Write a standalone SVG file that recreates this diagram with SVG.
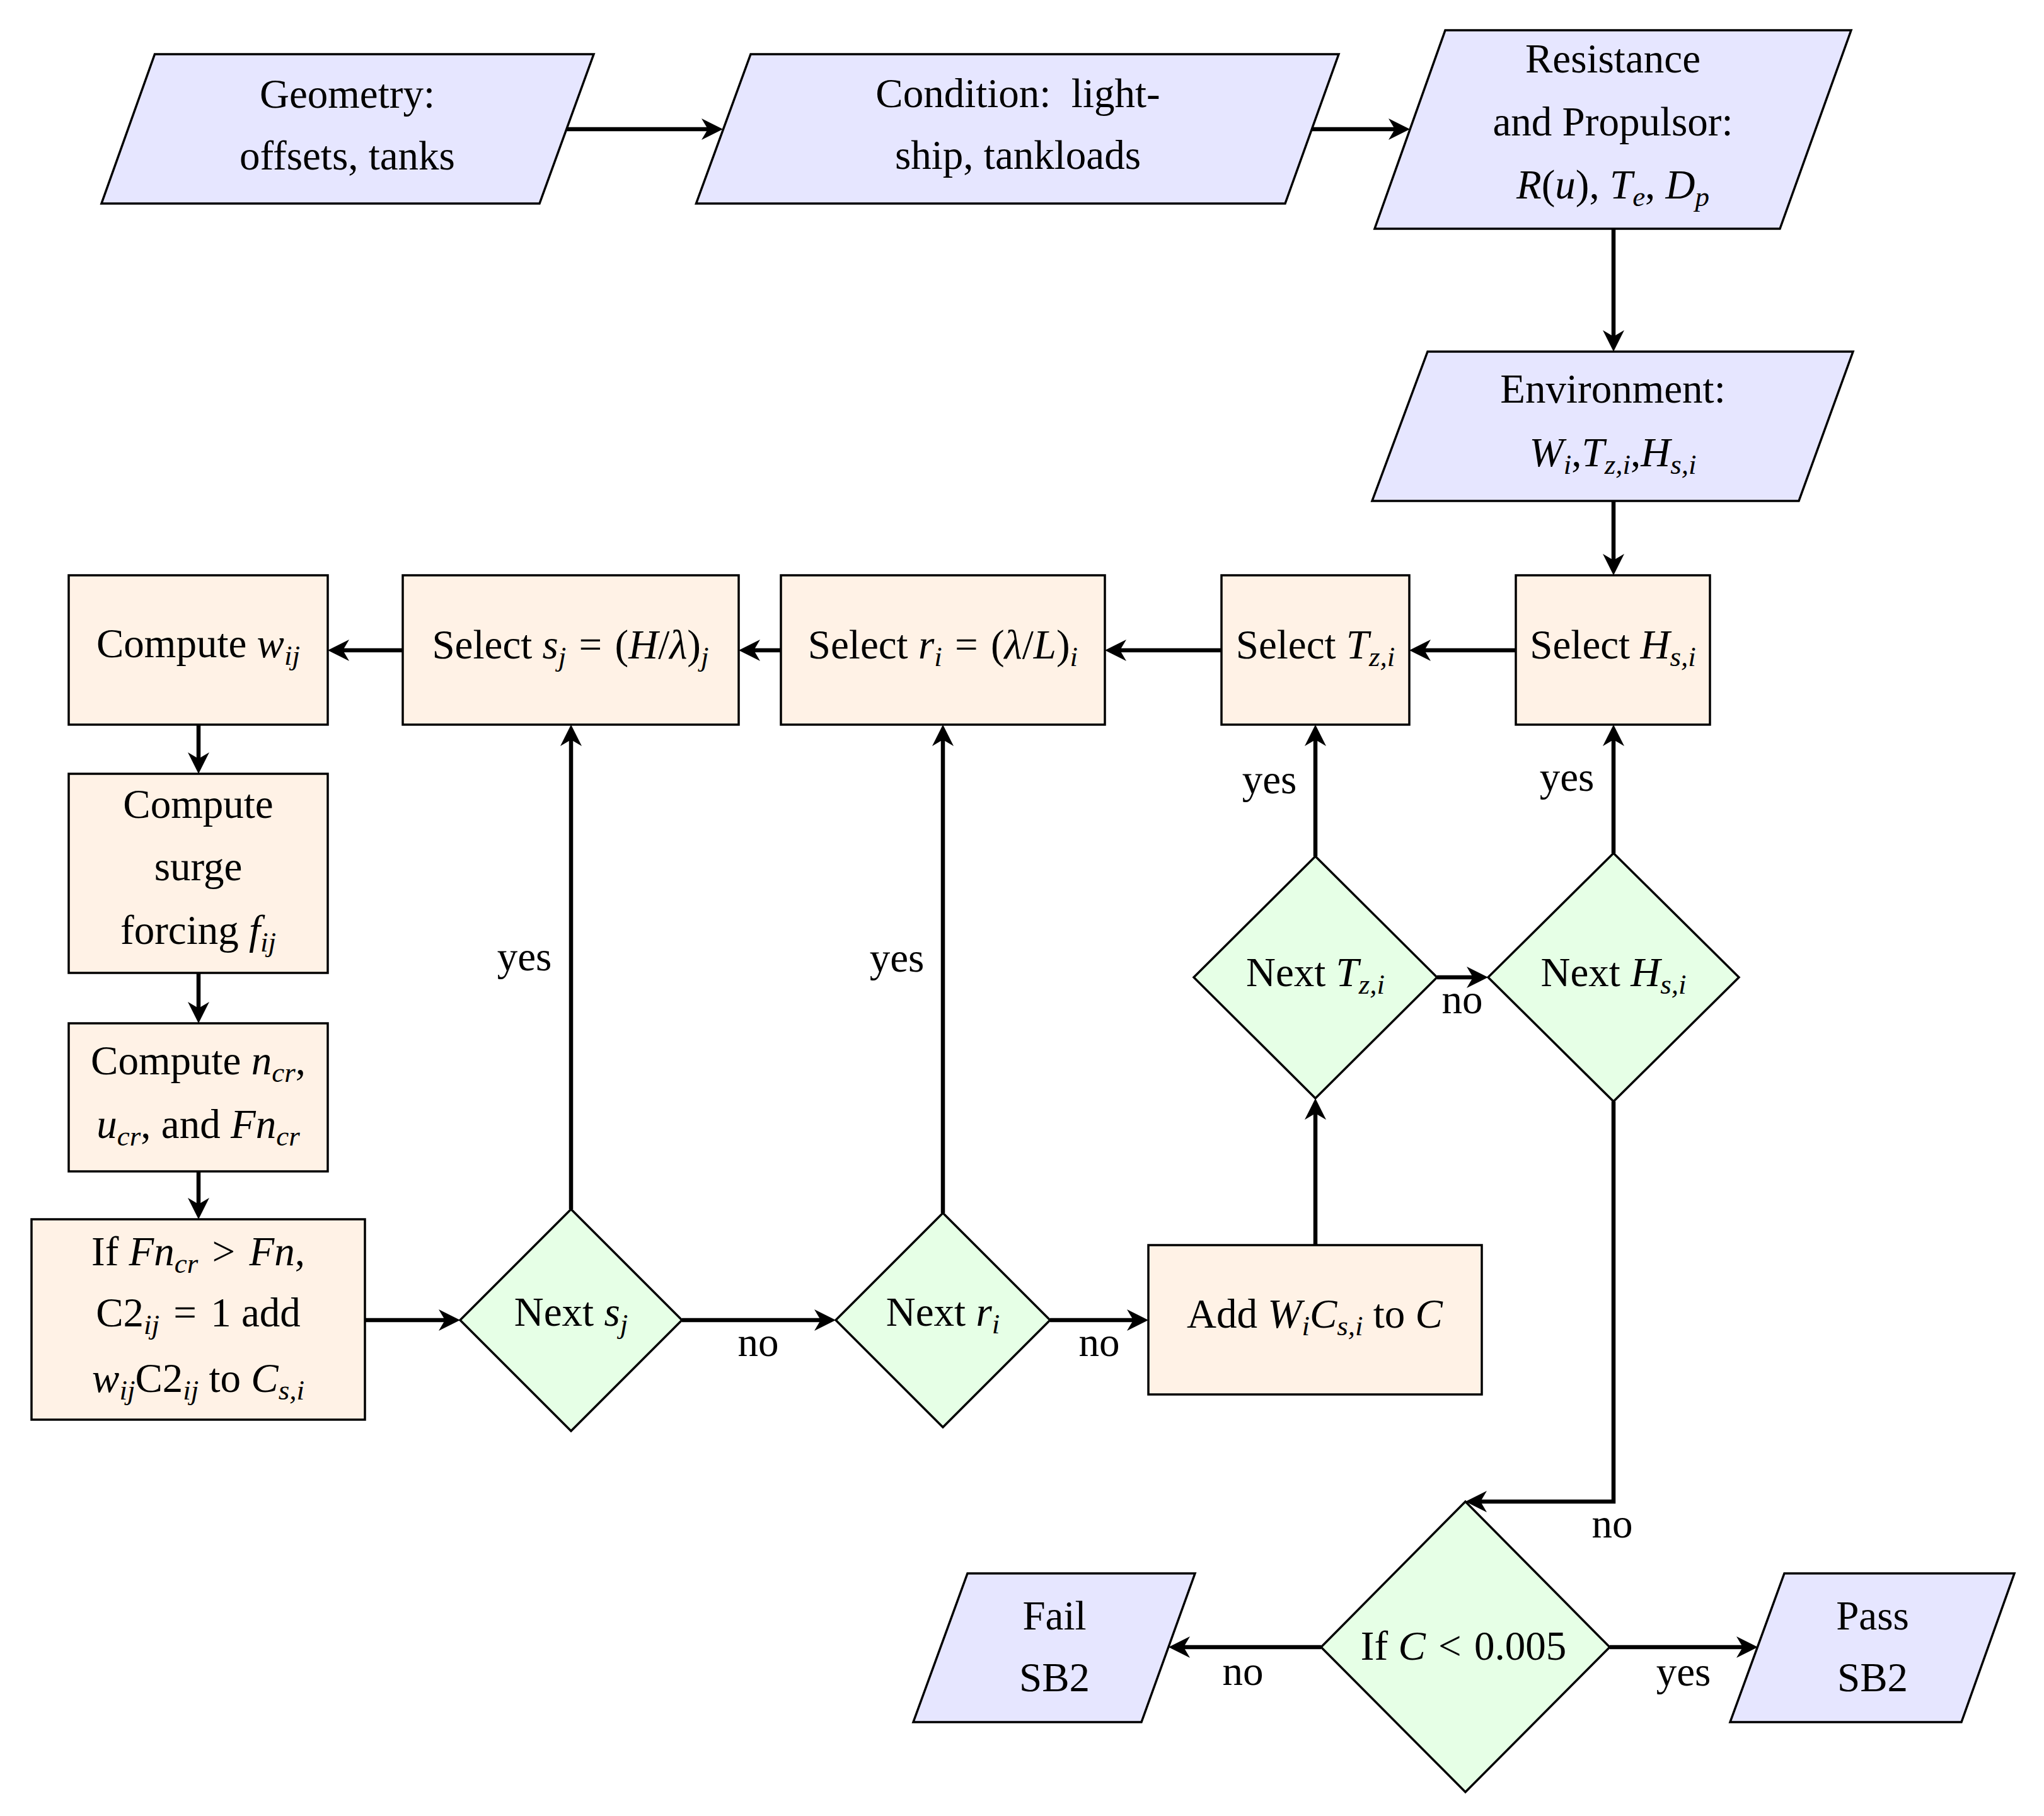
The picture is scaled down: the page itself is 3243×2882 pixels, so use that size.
<svg xmlns="http://www.w3.org/2000/svg" width="3243" height="2882" viewBox="0 0 3243 2882">
<style>
.para{fill:#E6E6FF;stroke:#000;stroke-width:3.5;stroke-linejoin:miter}
.proc{fill:#FFF2E6;stroke:#000;stroke-width:3.5}
.dec{fill:#E6FFE6;stroke:#000;stroke-width:3.5}
.t{font-family:"Liberation Serif","Times New Roman",serif;font-size:65px;fill:#000;text-anchor:middle}
.m{font-style:italic}
.s{font-size:45px;font-style:italic}
.conn path{fill:none;stroke:#000;stroke-width:6.5;marker-end:url(#ah)}
</style>
<defs>
<marker id="ah" markerUnits="userSpaceOnUse" markerWidth="60" markerHeight="60" viewBox="-40 -30 60 60" refX="-20" refY="0" orient="auto">
<path d="M0,0 L-34,-17 L-24,0 L-34,17 Z" fill="#000"/>
</marker>
</defs>
<rect x="0" y="0" width="3243" height="2882" fill="#fff"/>

<g id="geometry">
<polygon class="para" points="245.5,86 942,86 856,323 161,323"/>
<text class="t" x="551" y="171">Geometry:</text>
<text class="t" x="551" y="269">offsets, tanks</text>
</g>
<g id="condition">
<polygon class="para" points="1191,86 2124,86 2039,323 1104.5,323"/>
<text class="t" x="1615" y="170" xml:space="preserve">Condition:  light-</text>
<text class="t" x="1615" y="268">ship, tankloads</text>
</g>
<g id="resistance">
<polygon class="para" points="2293,48 2937,48 2824,363 2181,363"/>
<text class="t" x="2559" y="115">Resistance</text>
<text class="t" x="2559" y="215">and Propulsor:</text>
<text class="t" x="2559" y="315"><tspan class="m">R</tspan>(<tspan class="m">u</tspan>), <tspan class="m">T</tspan><tspan class="s" dy="12">e</tspan><tspan dy="-12">, </tspan><tspan class="m">D</tspan><tspan class="s" dy="12">p</tspan></text>
</g>
<g id="environment">
<polygon class="para" points="2265,558 2940,558 2854,795 2177,795"/>
<text class="t" x="2559" y="639">Environment:</text>
<text class="t" x="2559" y="740"><tspan class="m">W</tspan><tspan class="s" dy="12">i</tspan><tspan dy="-12">,</tspan><tspan class="m">T</tspan><tspan class="s" dy="12">z,i</tspan><tspan dy="-12">,</tspan><tspan class="m">H</tspan><tspan class="s" dy="12">s,i</tspan></text>
</g>

<g id="select-h">
<rect class="proc" x="2405" y="913" width="308" height="237"/>
<text class="t" x="2559" y="1045">Select <tspan class="m">H</tspan><tspan class="s" dy="12">s,i</tspan></text>
</g>
<g id="select-t">
<rect class="proc" x="1938" y="913" width="298" height="237"/>
<text class="t" x="2087" y="1045">Select <tspan class="m">T</tspan><tspan class="s" dy="12">z,i</tspan></text>
</g>
<g id="select-r">
<rect class="proc" x="1239" y="913" width="514" height="237"/>
<text class="t" x="1496" y="1045">Select <tspan class="m">r</tspan><tspan class="s" dy="12">i</tspan><tspan dy="-12" dx="4"> = </tspan><tspan dx="4">(</tspan><tspan class="m">λ</tspan>/<tspan class="m">L</tspan>)<tspan class="s" dy="12">i</tspan></text>
</g>
<g id="select-s">
<rect class="proc" x="639" y="913" width="533" height="237"/>
<text class="t" x="905" y="1045">Select <tspan class="m">s</tspan><tspan class="s" dy="12">j</tspan><tspan dy="-12" dx="4"> = </tspan><tspan dx="4">(</tspan><tspan class="m">H</tspan>/<tspan class="m">λ</tspan>)<tspan class="s" dy="12">j</tspan></text>
</g>
<g id="compute-w">
<rect class="proc" x="109" y="913" width="411" height="237"/>
<text class="t" x="314.5" y="1043">Compute <tspan class="m">w</tspan><tspan class="s" dy="12">ij</tspan></text>
</g>
<g id="compute-surge">
<rect class="proc" x="109" y="1228" width="411" height="316"/>
<text class="t" x="314.5" y="1298">Compute</text>
<text class="t" x="314.5" y="1397">surge</text>
<text class="t" x="314.5" y="1498">forcing <tspan class="m">f</tspan><tspan class="s" dy="12">ij</tspan></text>
</g>
<g id="compute-ncr">
<rect class="proc" x="109" y="1624" width="411" height="235"/>
<text class="t" x="314.5" y="1705">Compute <tspan class="m">n</tspan><tspan class="s" dy="12">cr</tspan><tspan dy="-12">,</tspan></text>
<text class="t" x="314.5" y="1806"><tspan class="m">u</tspan><tspan class="s" dy="12">cr</tspan><tspan dy="-12">, and </tspan><tspan class="m">Fn</tspan><tspan class="s" dy="12">cr</tspan></text>
</g>
<g id="if-fn">
<rect class="proc" x="50" y="1935" width="529" height="318"/>
<text class="t" x="314.5" y="2008">If <tspan class="m">Fn</tspan><tspan class="s" dy="12">cr</tspan><tspan dy="-12" dx="6"> &gt; </tspan><tspan dx="6" class="m">Fn</tspan>,</text>
<text class="t" x="314.5" y="2105">C2<tspan class="s" dy="12">ij</tspan><tspan dy="-12" dx="6"> = </tspan><tspan dx="6">1 add</tspan></text>
<text class="t" x="314.5" y="2209"><tspan class="m">w</tspan><tspan class="s" dy="12">ij</tspan><tspan dy="-12">C2</tspan><tspan class="s" dy="12">ij</tspan><tspan dy="-12"> to </tspan><tspan class="m">C</tspan><tspan class="s" dy="12">s,i</tspan></text>
</g>
<g id="next-s">
<polygon class="dec" points="906,1919 1082,2095 906,2271 730,2095"/>
<text class="t" x="906" y="2104">Next <tspan class="m">s</tspan><tspan class="s" dy="12">j</tspan></text>
</g>
<g id="next-r">
<polygon class="dec" points="1496,1925 1666,2095 1496,2265 1326,2095"/>
<text class="t" x="1496" y="2104">Next <tspan class="m">r</tspan><tspan class="s" dy="12">i</tspan></text>
</g>
<g id="add-c">
<rect class="proc" x="1822" y="1976" width="529" height="237"/>
<text class="t" x="2086" y="2107">Add <tspan class="m">W</tspan><tspan class="s" dy="12">i</tspan><tspan class="m" dy="-12">C</tspan><tspan class="s" dy="12">s,i</tspan><tspan dy="-12"> to </tspan><tspan class="m">C</tspan></text>
</g>
<g id="next-t">
<polygon class="dec" points="2087,1359 2280,1551 2087,1743 1894,1551"/>
<text class="t" x="2087" y="1565">Next <tspan class="m">T</tspan><tspan class="s" dy="12">z,i</tspan></text>
</g>
<g id="next-h">
<polygon class="dec" points="2560,1354 2759,1551 2560,1748 2361,1551"/>
<text class="t" x="2560" y="1565">Next <tspan class="m">H</tspan><tspan class="s" dy="12">s,i</tspan></text>
</g>
<g id="if-c">
<polygon class="dec" points="2325,2383 2554,2614 2325,2844 2096,2614"/>
<text class="t" x="2322" y="2634">If <tspan class="m">C</tspan><tspan dx="4"> &lt; </tspan><tspan dx="4">0.005</tspan></text>
</g>
<g id="fail">
<polygon class="para" points="1535,2497 1896,2497 1811,2733 1449,2733"/>
<text class="t" x="1673" y="2586">Fail</text>
<text class="t" x="1673" y="2684">SB2</text>
</g>
<g id="pass">
<polygon class="para" points="2831,2497 3196,2497 3112,2733 2745,2733"/>
<text class="t" x="2971" y="2586">Pass</text>
<text class="t" x="2971" y="2684">SB2</text>
</g>

<g id="connectors" class="conn">
<path d="M899,205 H1127"/>
<path d="M2082,205 H2217"/>
<path d="M2560,363 V538"/>
<path d="M2560,795 V893"/>
<path d="M2405,1032 H2256"/>
<path d="M1938,1032 H1773"/>
<path d="M1239,1032 H1192"/>
<path d="M639,1032 H540"/>
<path d="M315,1150 V1208"/>
<path d="M315,1544 V1604"/>
<path d="M315,1859 V1915"/>
<path d="M579,2095 H710"/>
<path d="M906,1919 V1170"/>
<path d="M1082,2095 H1306"/>
<path d="M1496,1925 V1170"/>
<path d="M1666,2095 H1802"/>
<path d="M2087,1976 V1763"/>
<path d="M2087,1359 V1170"/>
<path d="M2280,1551 H2341"/>
<path d="M2560,1354 V1170"/>
<path d="M2560,1748 V2383 H2345"/>
<path d="M2096,2614 H1874"/>
<path d="M2554,2614 H2769"/>
</g>
<g id="labels">
<text class="t" x="832" y="1540">yes</text>
<text class="t" x="1423" y="1542">yes</text>
<text class="t" x="1203" y="2152">no</text>
<text class="t" x="1744" y="2152">no</text>
<text class="t" x="2014" y="1259">yes</text>
<text class="t" x="2486" y="1255">yes</text>
<text class="t" x="2320" y="1608">no</text>
<text class="t" x="2558" y="2440">no</text>
<text class="t" x="1972" y="2674">no</text>
<text class="t" x="2671" y="2675">yes</text>
</g>
</svg>
